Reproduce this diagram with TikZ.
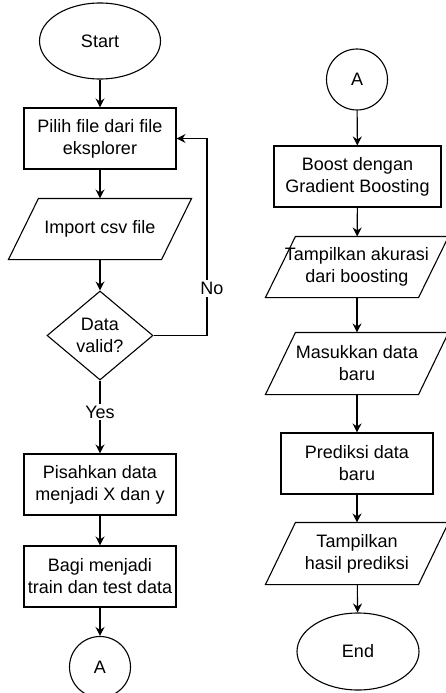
\documentclass[tikz,border=0pt]{standalone}
\usepackage{fontspec}
\setmainfont{Liberation Sans}
\usetikzlibrary{shapes.geometric,arrows.meta,calc}
\newcommand\drawpara[1]{\draw[outline] ($(#1.south west)+(-15,0)$) -- ($(#1.north west)+(15,0)$) -- ($(#1.north east)+(15,0)$) -- ($(#1.south east)+(-15,0)$) -- cycle;}
\begin{document}
\begin{tikzpicture}[x=1pt,y=-1pt,
  base/.style={font=\fontsize{18}{22}\selectfont, align=center, inner sep=0pt, line width=1.1pt},
  outline/.style={line width=1.1pt},
  term/.style={base, draw, ellipse, minimum width=121pt, minimum height=76pt},
  proc/.style={base, draw, rectangle, minimum width=152pt, minimum height=61pt},
  iobox/.style={base, rectangle, minimum width=152pt, minimum height=60pt},
  dec/.style={base, draw, diamond, aspect=1.19, minimum width=106pt, minimum height=89pt},
  conn/.style={base, draw, circle, minimum size=61pt},
  arr/.style={line width=1.1pt, -{Stealth[length=9pt,width=9pt,inset=3pt]}},
  lbl/.style={base, fill=white, inner sep=2pt}]
\useasboundingbox (0,0) rectangle (446,693);
% left column
\node[term] (start) at (100,41) {Start};
\node[proc] (pilih) at (100,138.5) {Pilih file dari file\\eksplorer};
\node[iobox] (imp) at (100,229) {Import csv file};
\drawpara{imp}
\node[dec] (dv) at (100,335.5) {Data\\valid?};
\node[proc] (pis) at (100,484.5) {Pisahkan data\\menjadi X dan y};
\node[proc] (bagi) at (100,576.5) {Bagi menjadi\\train dan test data};
\node[conn] (a1) at (100,667) {A};
\coordinate (nocorner) at (207,335.5);
% right column
\node[conn] (a2) at (357,79.5) {A};
\node[proc, minimum width=167pt] (boost) at (357.5,176.5) {Boost dengan\\Gradient Boosting};
\node[iobox] (tak) at (357,267) {Tampilkan akurasi\\dari boosting};
\drawpara{tak}
\node[iobox, minimum height=61pt] (mas) at (357,363.5) {Masukkan data\\baru};
\drawpara{mas}
\node[proc] (pred) at (357,463.5) {Prediksi data\\baru};
\node[iobox, minimum height=61pt] (thp) at (357,553.5) {Tampilkan\\hasil prediksi};
\drawpara{thp}
\node[term, minimum width=122pt, minimum height=77pt] (end) at (358,651.5) {End};
% connectors
\draw[arr] (start) -- (pilih);
\draw[arr] (pilih) -- (imp);
\draw[arr] (imp) -- (dv);
\draw[arr] (dv) -- node[lbl, pos=0.43] {Yes} (pis);
\draw[arr] (dv.east) -- (nocorner) |- node[lbl, pos=0.12, xshift=5pt] {No} (pilih.east);
\draw[arr] (pis) -- (bagi);
\draw[arr] (bagi) -- (a1);
\draw[arr] (a2) -- (boost);
\draw[arr] (boost) -- (tak);
\draw[arr] (tak) -- (mas);
\draw[arr] (mas) -- (pred);
\draw[arr] (pred) -- (thp);
\draw[arr] (thp) -- (end);
\end{tikzpicture}
\end{document}
